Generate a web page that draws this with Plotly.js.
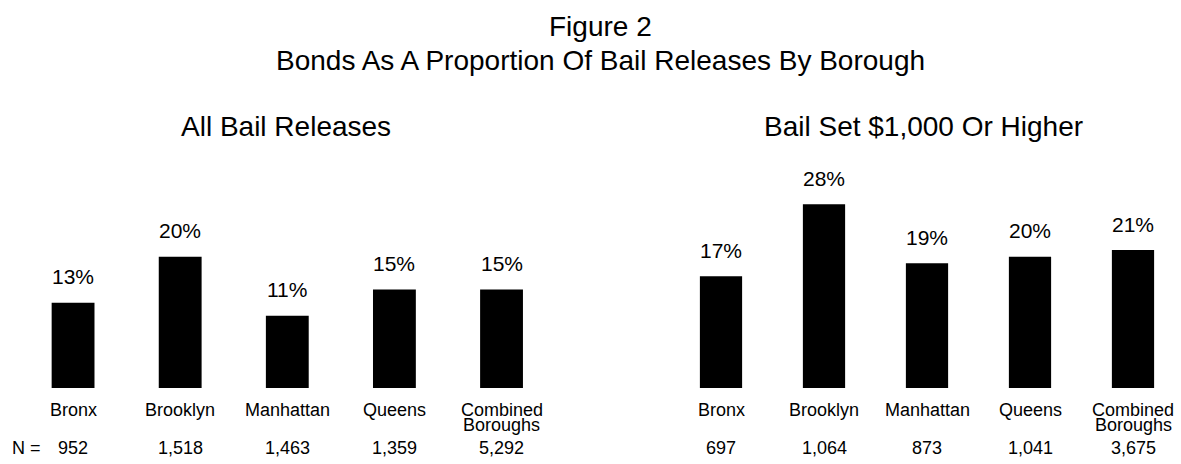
<!DOCTYPE html>
<html>
<head>
<meta charset="utf-8">
<script src="https://cdn.plot.ly/plotly-3.0.1.min.js"></script>
<style>html,body{margin:0;padding:0;background:#fff;}</style>
</head>
<body>
<div id="chart" style="width:1181px;height:464px;"></div>
<script>
// ---- data ----
const categories = ['Bronx', 'Brooklyn', 'Manhattan', 'Queens', 'Combined Boroughs'];
const allReleasesPct = [13, 20, 11, 15, 15];
const allReleasesN = [952, 1518, 1463, 1359, 5292];
const highBailPct = [17, 28, 19, 20, 21];
const highBailN = [697, 1064, 873, 1041, 3675];
const figureTitle = 'Figure 2';
const figureSubtitle = 'Bonds As A Proportion Of Bail Releases By Borough';
const panelTitles = ['All Bail Releases', 'Bail Set $1,000 Or Higher'];
const nLabel = 'N =';

// ---- layout helpers ----
const W = 1181, H = 464;
const FONT = 'Liberation Sans, Arial, Helvetica, sans-serif';
const py = p => (H - p) / H;
const px = p => p / W;

const traces = [
  {type: 'bar', x: categories, y: allReleasesPct, xaxis: 'x', yaxis: 'y',
   marker: {color: '#000000', line: {width: 0}}, width: 0.4, hoverinfo: 'x+y'},
  {type: 'bar', x: categories, y: highBailPct, xaxis: 'x2', yaxis: 'y2',
   marker: {color: '#000000', line: {width: 0}}, width: 0.41, hoverinfo: 'x+y'}
];

const annotations = [];
function txt(o) {
  annotations.push(Object.assign({showarrow: false, borderpad: 1,
    font: {family: FONT, size: 18, color: '#000000'}}, o));
}
// titles
txt({text: figureTitle, xref: 'paper', yref: 'paper', x: px(600), y: py(26.2),
     xanchor: 'center', yanchor: 'middle', font: {family: FONT, size: 28, color: '#000'}});
txt({text: figureSubtitle, xref: 'paper', yref: 'paper', x: px(600), y: py(60.2),
     xanchor: 'center', yanchor: 'middle', font: {family: FONT, size: 28, color: '#000'}});
txt({text: panelTitles[0], xref: 'paper', yref: 'paper', x: px(285.5), y: py(126),
     xanchor: 'center', yanchor: 'middle', font: {family: FONT, size: 28, color: '#000'}});
txt({text: panelTitles[1], xref: 'paper', yref: 'paper', x: px(923.5), y: py(126),
     xanchor: 'center', yanchor: 'middle', font: {family: FONT, size: 28, color: '#000'}});
txt({text: nLabel, xref: 'paper', yref: 'paper', x: px(10), y: py(447.7),
     xanchor: 'left', yanchor: 'middle'});

function panel(xr, yr, pcts, ns) {
  categories.forEach((c, i) => {
    // value label above bar
    txt({text: pcts[i] + '%', xref: xr, yref: yr, x: c, y: pcts[i], xanchor: 'center',
         yanchor: 'bottom', yshift: 12.5, font: {family: FONT, size: 21, color: '#000'}});
    // category label lines
    c.split(' ').forEach((line, j) => {
      txt({text: line, xref: xr, yref: 'paper', x: c, y: py(410.4 + j * 14.7),
           xanchor: 'center', yanchor: 'middle'});
    });
    // N row
    txt({text: ns[i].toLocaleString('en-US'), xref: xr, yref: 'paper', x: c, y: py(447.7),
         xanchor: 'center', yanchor: 'middle'});
  });
}
panel('x', 'y', allReleasesPct, allReleasesN);
panel('x2', 'y2', highBailPct, highBailN);

const axisBase = {showgrid: false, zeroline: false, showline: false, ticks: '',
                  showticklabels: false, fixedrange: true};
const yDomain = [py(388), py(191)];

const layout = {
  width: W, height: H, autosize: false,
  margin: {l: 0, r: 0, t: 0, b: 0, pad: 0},
  paper_bgcolor: '#ffffff', plot_bgcolor: '#ffffff',
  showlegend: false,
  font: {family: FONT, color: '#000'},
  xaxis: Object.assign({}, axisBase, {type: 'category', domain: [px(8.8), px(565.8)], range: [-0.6, 4.6], anchor: 'y'}),
  yaxis: Object.assign({}, axisBase, {domain: yDomain, range: [0, 30], anchor: 'x'}),
  xaxis2: Object.assign({}, axisBase, {type: 'category', domain: [px(679.8), px(1174.2)], range: [-0.4, 4.4], anchor: 'y2'}),
  yaxis2: Object.assign({}, axisBase, {domain: yDomain, range: [0, 30], anchor: 'x2'}),
  annotations: annotations
};

Plotly.newPlot('chart', traces, layout, {displayModeBar: false, staticPlot: true});
</script>
</body>
</html>
